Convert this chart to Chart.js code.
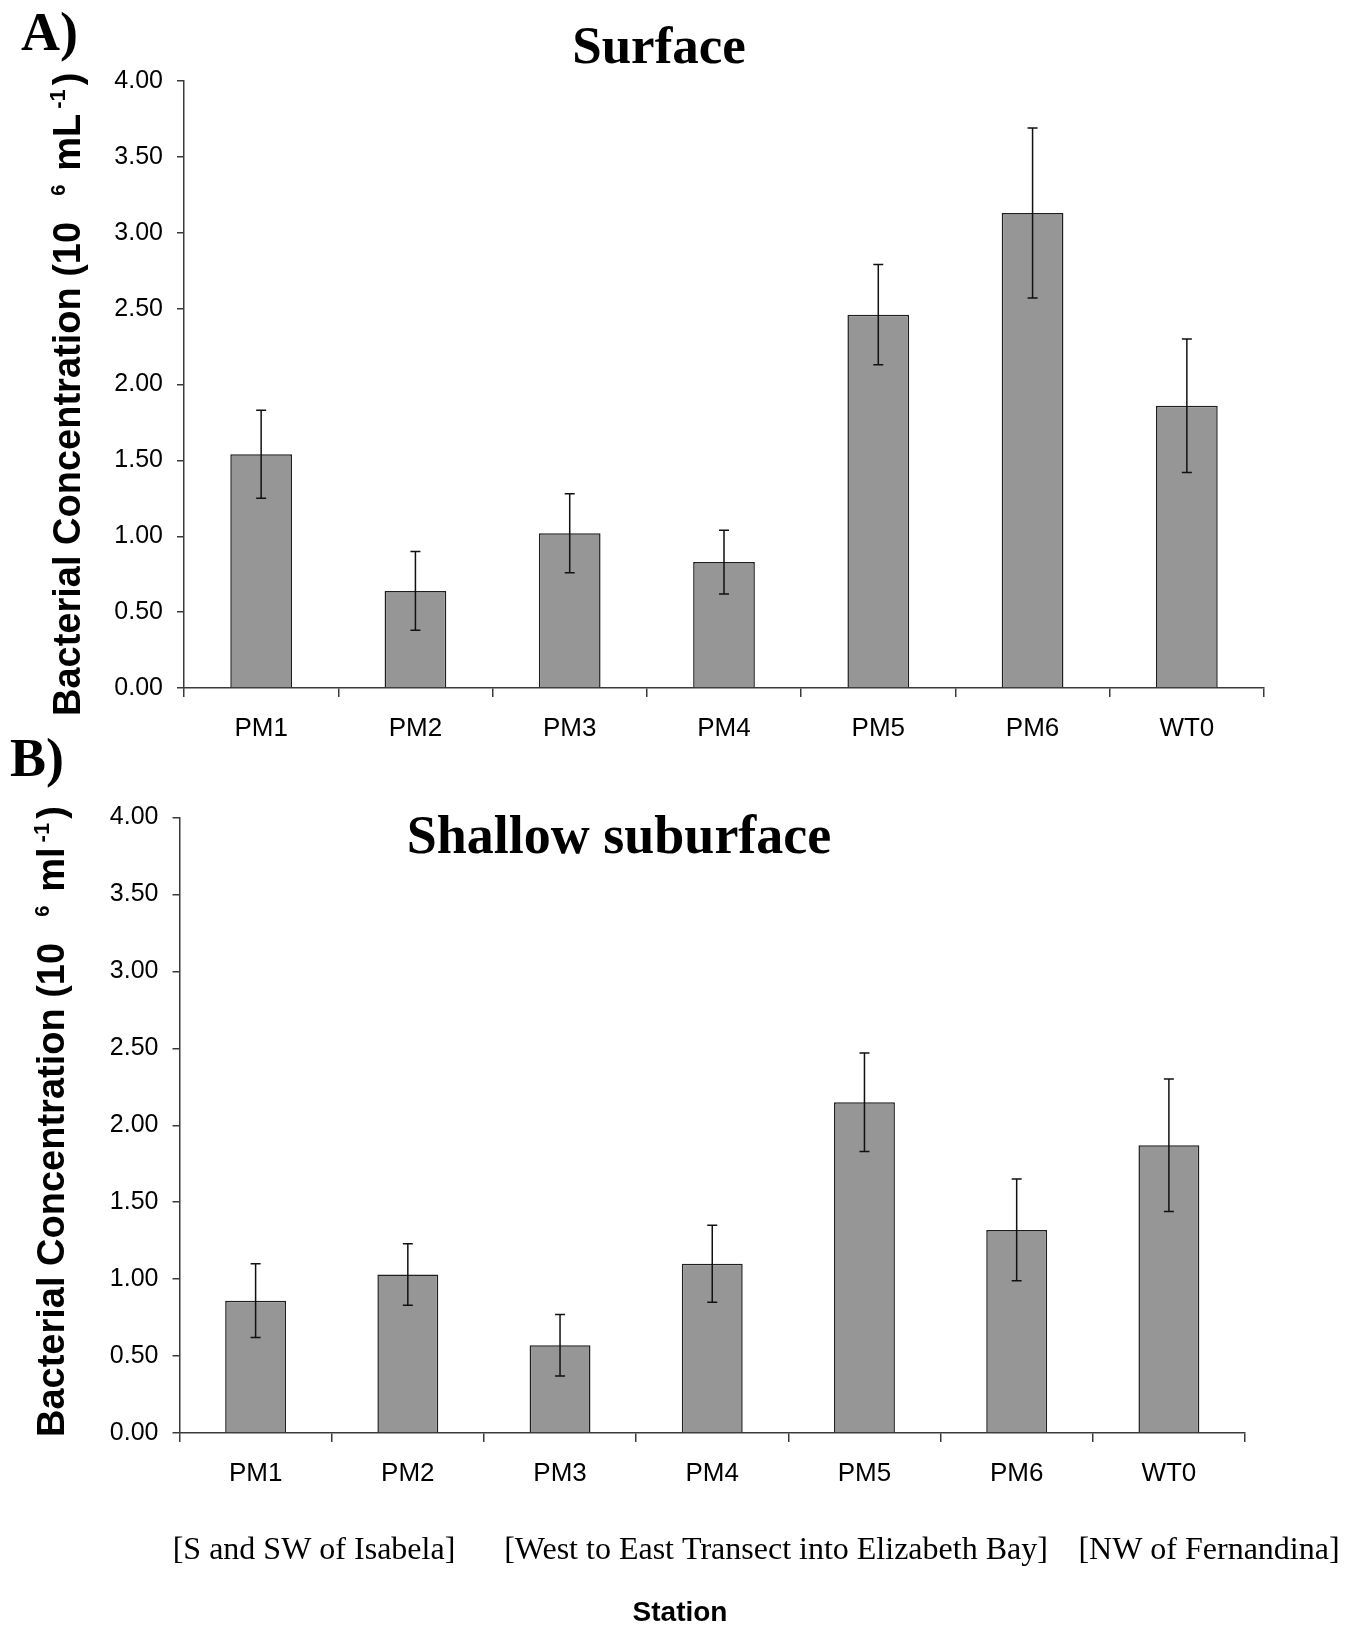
<!DOCTYPE html>
<html lang="en">
<head>
    <meta charset="UTF-8">
    <title>Bacterial Concentration - Surface and Shallow Subsurface</title>
    <script src="https://cdn.jsdelivr.net/npm/chart.js"></script>
    <style>
        body {
            margin: 0;
            background: #fff;
            width: 1356px;
            height: 1627px;
            overflow: hidden;
            position: relative;
        }
        .panel {
            position: absolute;
            left: 0;
            width: 1356px;
        }
    </style>
</head>
<body>
    <div class="panel" style="top:0;height:760px;"><canvas id="chartA"></canvas></div>
    <div class="panel" style="top:720px;height:907px;"><canvas id="chartB"></canvas></div>

    <script>
        // Data
        const stations = ['PM1', 'PM2', 'PM3', 'PM4', 'PM5', 'PM6', 'WT0'];
        const surface = [1.54, 0.64, 1.02, 0.83, 2.46, 3.13, 1.86];
        const surfaceErr = [0.29, 0.26, 0.26, 0.21, 0.33, 0.56, 0.44];
        const shallow = [0.86, 1.03, 0.57, 1.10, 2.15, 1.32, 1.87];
        const shallowErr = [0.24, 0.20, 0.20, 0.25, 0.32, 0.33, 0.43];
        const regions = ['[S and SW of Isabela]', '[West to East Transect into Elizabeth Bay]', '[NW of Fernandina]'];

        const SANS = '"Liberation Sans", Arial, sans-serif';
        const SERIF = '"Liberation Serif", "Times New Roman", serif';
        const AXIS = '#3a3a3a';

        // error bars drawn from the err arrays through the chart scales
        const errorBars = {
            id: 'errorBars',
            afterDatasetsDraw(chart, args, opts) {
                const { ctx, scales: { x, y } } = chart;
                const vals = chart.data.datasets[0].data;
                ctx.save();
                ctx.strokeStyle = '#111';
                ctx.lineWidth = 1.5;
                vals.forEach((v, i) => {
                    const px = x.getPixelForValue(i);
                    const top = y.getPixelForValue(v + opts.err[i]);
                    const bot = y.getPixelForValue(v - opts.err[i]);
                    ctx.beginPath();
                    ctx.moveTo(px, top); ctx.lineTo(px, bot);
                    ctx.moveTo(px - 5, top); ctx.lineTo(px + 5, top);
                    ctx.moveTo(px - 5, bot); ctx.lineTo(px + 5, bot);
                    ctx.stroke();
                });
                ctx.restore();
            }
        };

        // free-standing texts (panel letter, titles, region notes) and the
        // rotated y title with its superscripts
        const labels = {
            id: 'labels',
            afterDraw(chart, args, opts) {
                const ctx = chart.ctx;
                ctx.save();
                ctx.fillStyle = '#000';
                ctx.textBaseline = 'alphabetic';
                opts.items.forEach(it => {
                    ctx.font = it.font;
                    ctx.textAlign = it.align || 'center';
                    ctx.fillText(it.text, it.x, it.y);
                });

                const t = opts.yTitle;
                ctx.translate(t.x, t.y);
                ctx.rotate(-Math.PI / 2);
                ctx.textAlign = 'left';
                let pos = 0;
                t.parts.forEach(p => {
                    pos += p.gap || 0;
                    ctx.font = 'bold ' + p.size + 'px ' + SANS;
                    ctx.fillText(p.text, pos, -(p.rise || 0));
                    pos += ctx.measureText(p.text).width;
                });
                ctx.restore();
            }
        };

        function titleParts(unit) {
            return [
                { text: 'Bacterial Concentration (10', size: 38 },
                { text: '6', size: 20, rise: 15, gap: 26 },
                { text: unit, size: 38, gap: 14 },
                { text: '-1', size: 22, rise: 15, gap: 5 },
                { text: ')', size: 38, gap: 4 }
            ];
        }

        function makeChart(id, values, errs, pad, xHeight, items, yTitle) {
            return new Chart(document.getElementById(id), {
                type: 'bar',
                data: {
                    labels: stations,
                    datasets: [{
                        data: values,
                        backgroundColor: '#969696',
                        borderColor: '#1e1e1e',
                        borderWidth: 1.5,
                        categoryPercentage: 1,
                        barPercentage: 0.4
                    }]
                },
                options: {
                    responsive: true,
                    maintainAspectRatio: false,
                    animation: false,
                    devicePixelRatio: 1,
                    layout: { padding: pad },
                    plugins: {
                        legend: { display: false },
                        tooltip: { enabled: false },
                        errorBars: { err: errs },
                        labels: { items: items, yTitle: yTitle }
                    },
                    scales: {
                        x: {
                            grid: { drawOnChartArea: false, offset: true, tickLength: 9, color: AXIS, lineWidth: 1.5 },
                            border: { color: AXIS, width: 1.5 },
                            ticks: { color: '#000', padding: 16, font: { family: SANS, size: 26 } },
                            afterFit: s => { s.height = xHeight; }
                        },
                        y: {
                            min: 0,
                            max: 4,
                            grid: { drawOnChartArea: false, tickLength: 7, color: AXIS, lineWidth: 1.5 },
                            border: { color: AXIS, width: 1.5 },
                            ticks: {
                                stepSize: 0.5,
                                color: '#000',
                                padding: 14,
                                font: { family: SANS, size: 25 },
                                callback: v => v.toFixed(2)
                            },
                            afterFit: s => { s.width = pad.yWidth; }
                        }
                    }
                },
                plugins: [errorBars, labels]
            });
        }

        makeChart('chartA', surface, surfaceErr,
            { top: 81, right: 92, bottom: 0, left: 0, yWidth: 184 }, 72, [
                { text: 'A)', x: 21, y: 50, align: 'left', font: 'bold 54px ' + SERIF },
                { text: 'Surface', x: 659, y: 63, font: 'bold 53px ' + SERIF }
            ],
            { x: 80, y: 716, parts: titleParts('mL') });

        makeChart('chartB', shallow, shallowErr,
            { top: 97.5, right: 111, bottom: 0, left: 0, yWidth: 179.5 }, 194, [
                { text: 'B)', x: 10, y: 56, align: 'left', font: 'bold 54px ' + SERIF },
                { text: 'Shallow suburface', x: 619, y: 133, font: 'bold 54px ' + SERIF },
                { text: regions[0], x: 314, y: 839, font: '32px ' + SERIF },
                { text: regions[1], x: 776, y: 839, font: '32px ' + SERIF },
                { text: regions[2], x: 1209, y: 839, font: '32px ' + SERIF },
                { text: 'Station', x: 680, y: 901, font: 'bold 28px ' + SANS }
            ],
            { x: 64, y: 717, parts: titleParts('ml') });
    </script>
</body>
</html>
